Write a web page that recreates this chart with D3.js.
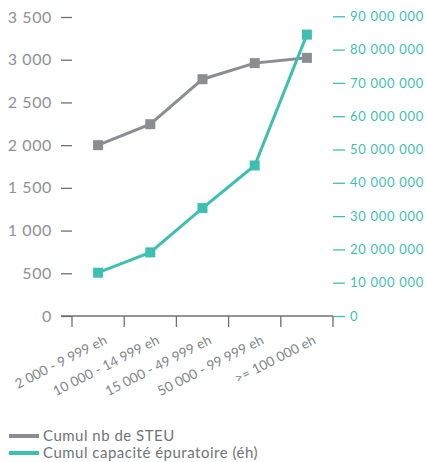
<!DOCTYPE html>
<html><head><meta charset="utf-8">
<script src="https://cdn.jsdelivr.net/npm/d3@7"></script>
<style>
body{margin:0;background:#fff;}
text{font-family:"Century Gothic","Futura","Lato","DejaVu Sans",sans-serif;}
</style></head>
<body><svg id="c" width="426" height="462"></svg>
<script>
const categories = ["2 000 - 9 999 eh","10 000 - 14 999 eh","15 000 - 49 999 eh","50 000 - 99 999 eh",">= 100 000 eh"];
const nbSteu = [2000, 2245, 2772, 2960, 3022];
const capacite = [13000000, 19100000, 32400000, 45200000, 84500000];
const leftTicks = [0,500,1000,1500,2000,2500,3000,3500];
const rightTicks = [0,10000000,20000000,30000000,40000000,50000000,60000000,70000000,80000000,90000000];
const seriesNames = ["Cumul nb de STEU","Cumul capacité épuratoire (éh)"];

const gray = "#8a8e93", teal = "#3fbfb1", axisCol = "#6c7176", labelCol = "#8e9297";
const svg = d3.select("#c");
const fmt = v => d3.format(",")(v).replace(/,/g, " ");

const x = d3.scaleBand().domain(categories).range([72, 333]).paddingInner(0).paddingOuter(0);
const yL = d3.scaleLinear().domain([0, 3500]).range([316, 17]);
const yR = d3.scaleLinear().domain([0, 90000000]).range([316, 16.3]);

// left axis
const gL = svg.append("g").attr("transform","translate(72,0)")
  .call(d3.axisLeft(yL).tickValues(leftTicks).tickSize(11).tickPadding(9).tickFormat(fmt));
gL.select(".domain").remove();
gL.selectAll("line").attr("stroke",axisCol).attr("stroke-width",1.3);
gL.selectAll("text").attr("fill",labelCol).style("font-size","16px").style("letter-spacing","0.6px");

// right axis
const gR = svg.append("g").attr("transform","translate(333,0)")
  .call(d3.axisRight(yR).tickValues(rightTicks).tickSize(12).tickPadding(5).tickFormat(fmt));
gR.select(".domain").remove();
gR.selectAll("line").attr("stroke",teal).attr("stroke-width",1.3);
gR.selectAll("text").attr("fill",teal).style("font-size","13px").style("letter-spacing","0.7px");

// x axis
const gX = svg.append("g").attr("transform","translate(0,316)")
  .call(d3.axisBottom(x).tickSize(0).tickPadding(0));
gX.select(".domain").remove();
gX.selectAll("text").attr("fill","#80858a").style("font-size","13.5px").style("letter-spacing","0.1px")
  .attr("text-anchor","end").attr("dy",null).attr("y",null)
  .attr("transform", "translate(10,27) rotate(-27)");
svg.append("line").attr("x1",61).attr("x2",333).attr("y1",316).attr("y2",316)
  .attr("stroke",axisCol).attr("stroke-width",1.3);
const bounds = categories.map(c => x(c)).concat([x.range()[1]]);
svg.append("g").selectAll("line").data(bounds).join("line")
  .attr("x1",d=>d).attr("x2",d=>d).attr("y1",316).attr("y2",327)
  .attr("stroke",axisCol).attr("stroke-width",1.3);

// lines
const cx = d => x(d) + x.bandwidth()/2;
function drawSeries(vals, scale, col){
  const pts = categories.map((c,i)=>[cx(c), scale(vals[i])]);
  svg.append("path").attr("d", d3.line()(pts)).attr("fill","none")
    .attr("stroke",col).attr("stroke-width",3);
  svg.append("g").selectAll("rect").data(pts).join("rect")
    .attr("x",d=>d[0]-5).attr("y",d=>d[1]-5).attr("width",10).attr("height",10).attr("fill",col);
}
drawSeries(nbSteu, yL, gray);
drawSeries(capacite, yR, teal);

// legend
const lg = svg.append("g");
[gray, teal].forEach((col,i)=>{
  const yy = 436 + i*17;
  lg.append("rect").attr("x",9).attr("y",yy-2).attr("width",30).attr("height",4).attr("fill",col);
  lg.append("text").attr("x",43).attr("y",yy+5).text(seriesNames[i])
    .attr("fill","#6f7479").style("font-size","15px").style("letter-spacing","0.5px");
});
</script></body></html>
